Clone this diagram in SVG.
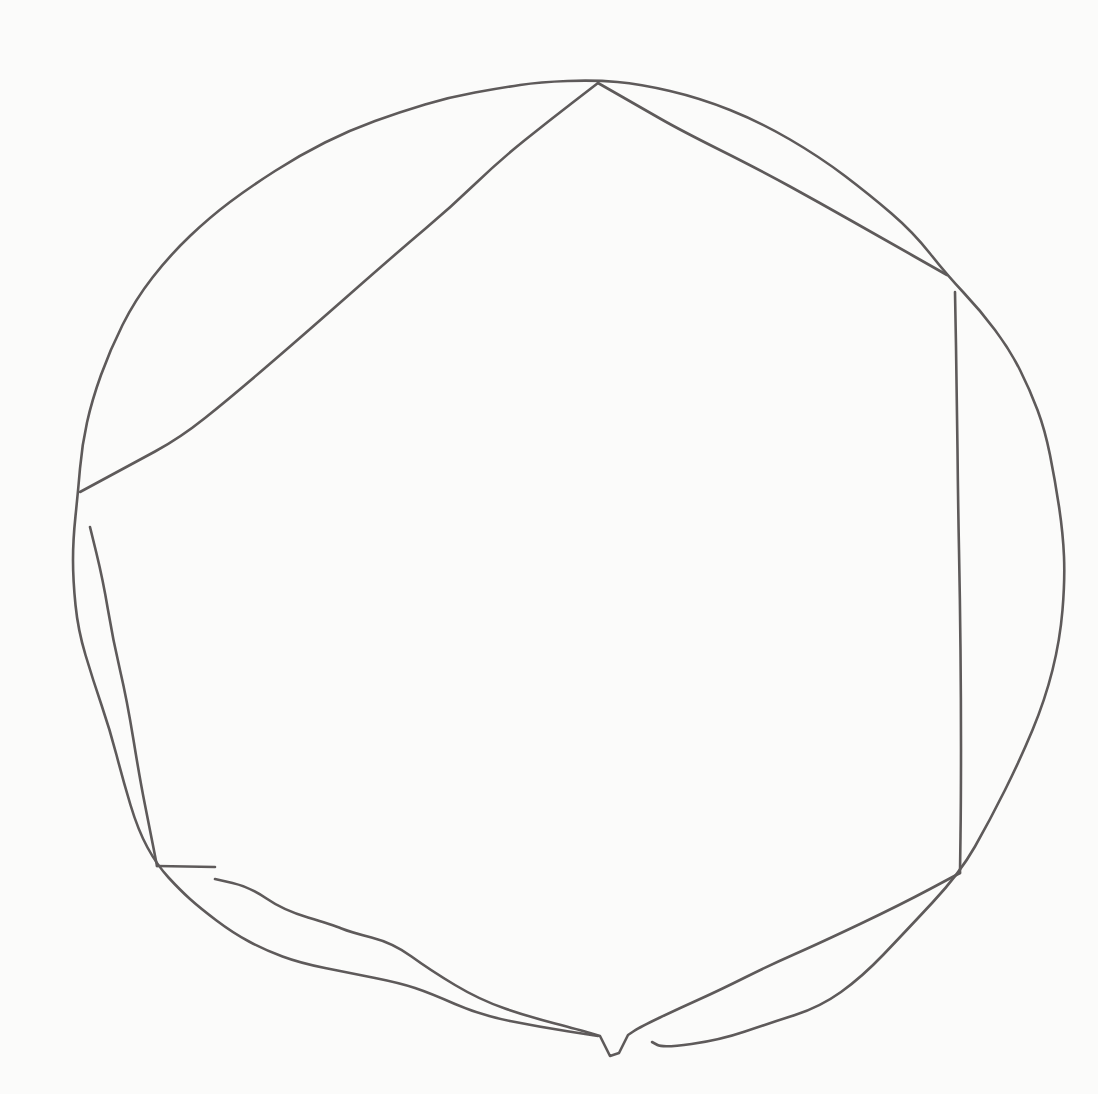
<svg xmlns="http://www.w3.org/2000/svg" width="1098" height="1094" viewBox="0 0 1098 1094">
<style>
.p{fill:none;stroke:#5e5a5a;stroke-width:2.6;stroke-linecap:round;stroke-linejoin:round}
</style>
<rect width="1098" height="1094" fill="#fbfbfa"/>
<path class="p" id="circle" d="M652,1042 L657.5,1045 Q663,1048 691.5,1044 Q720,1040 745,1031.5 Q770,1023 795,1015 Q820,1007 841,992 Q862,977 883.5,954.5 Q905,932 932.5,902.5 Q960,873 975,846.5 Q990,820 1005,790 Q1020,760 1032.5,730 Q1045,700 1052.5,670 Q1060,640 1062.5,610 Q1065,580 1064,556.5 Q1063,533 1059,506.5 Q1055,480 1050,455 Q1045,430 1037.5,410 Q1030,390 1020,370 Q1010,350 995,330 Q980,310 963.5,292.5 Q947,275 930,253.5 Q913,232 891.5,213.5 Q870,195 845,176 Q820,157 790,139.5 Q760,122 730,110 Q700,98 670,91 Q640,84 617.5,82 Q595,80 567.5,81 Q540,82 520,85 Q500,88 475,92.5 Q450,97 425,104.5 Q400,112 375,121 Q350,130 325,142.5 Q300,155 275,171 Q250,187 230,202 Q210,217 190,236 Q170,255 152.5,277.5 Q135,300 122.5,325 Q110,350 101,375 Q92,400 87,422.5 Q82,445 80,468.5 Q78,492 75.5,516 Q73,540 73,560 Q73,580 75.5,605 Q78,630 85.5,655 Q93,680 101.5,705 Q110,730 116.5,755 Q123,780 130.5,805 Q138,830 147.5,847.5 Q157,865 168.5,877.5 Q180,890 190,899 Q200,908 216.5,920.5 Q233,933 249,941.5 Q265,950 282.5,956.5 Q300,963 325,968 Q350,973 375,978 Q400,983 415,988 Q430,993 455,1004 Q480,1015 510,1021 Q540,1027 569,1031.5 L598,1036"/>
<g id="polygon">
<path class="p" d="M80,492 L105,478.5 Q130,465 155,451.5 Q180,438 205,418 Q230,398 265,368 Q300,338 350,294 Q400,250 425,229 Q450,208 475,184 Q500,160 525,140 Q550,120 574,101.5 L598,83"/>
<path class="p" d="M598,83 L619,95 Q640,107 660,118.5 Q680,130 720,150 Q760,170 790,186.5 Q820,203 850,220 Q880,237 913.5,256 L947,275"/>
<path class="p" d="M955,292 L956,346 Q957,400 957.5,450 Q958,500 959,550 Q960,600 960.5,650 Q961,700 961,750 Q961,800 960.5,836 L960,873"/>
<path class="p" d="M960,873 L930,889 Q900,905 860,924 Q820,943 795,954 Q770,965 745,977.5 Q720,990 700,999 Q680,1008 660,1017.5 Q640,1027 634,1031 L628,1035 L619,1053 L610,1056 L600,1036 L590,1033 Q580,1030 555,1023.5 Q530,1017 505,1008.5 Q480,1000 455,985 Q430,970 411.5,956.5 Q393,943 371.5,937.5 Q350,932 341.5,928.5 Q333,925 308,917.5 Q283,910 266.5,898.5 Q250,887 232.5,883 L215,879"/>
<path class="p" d="M157,866 L215,867"/>
<path class="p" d="M90,527 L96.5,553.5 Q103,580 108,610 Q113,640 120,670 Q127,700 133.5,740 Q140,780 145,805 Q150,830 153.5,848 L157,866"/>
</g>
</svg>
